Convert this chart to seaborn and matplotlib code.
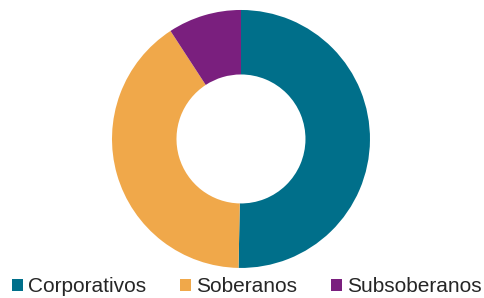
import matplotlib
matplotlib.use("Agg")
import matplotlib.pyplot as plt
import seaborn as sns
from matplotlib.patches import Patch

# --- dati ---
categorie = ["Corporativos", "Soberanos", "Subsoberanos"]
valori = [50.3, 40.5, 9.2]
colori = ["#006F8A", "#F0A84A", "#7A1F7E"]

sns.set_theme(style="white")
plt.rcParams['font.family'] = ['Liberation Sans', 'DejaVu Sans']

fig = plt.figure(figsize=(4.84, 2.98), dpi=100)
ax = fig.add_axes([0.2314, 0.1007, 0.533, 0.866])

ax.pie(valori, colors=colori, startangle=90, counterclock=False,
       wedgeprops=dict(width=0.5, edgecolor='none'))
ax.set_xlim(-1, 1)
ax.set_ylim(-1, 1)
ax.set_aspect('equal')
ax.axis('off')

handles = [Patch(facecolor=c, edgecolor='none') for c in colori]
fig.legend(handles, categorie, loc='center', bbox_to_anchor=(0.51, 0.037),
           ncol=3, frameon=False, fontsize=15, handlelength=0.55, handleheight=0.55,
           handletextpad=0.25, columnspacing=1.6, borderaxespad=0, borderpad=0)

fig.savefig("out.png", dpi=100)
